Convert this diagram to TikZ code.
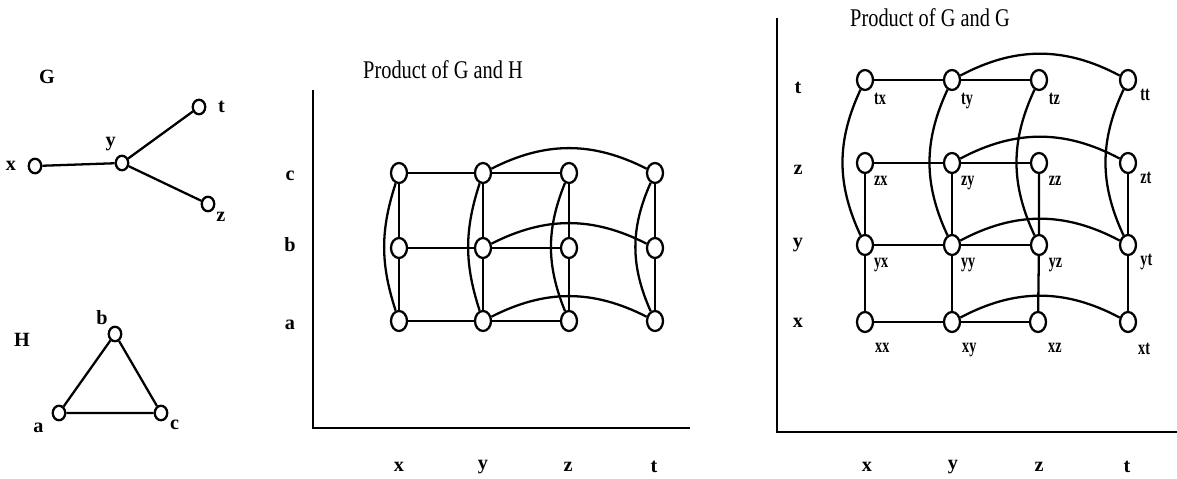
\documentclass[tikz,border=0pt]{standalone}
\usepackage{fontspec}
\setmainfont{Liberation Serif}
\usepackage{graphicx}
\usetikzlibrary{shapes.geometric}

\newcommand{\narrow}[1]{\scalebox{0.7}[1]{#1}}

\begin{document}
\begin{tikzpicture}[x=0.02cm, y=-0.02cm, line width=1.3pt,
    vert/.style={draw, ellipse, inner sep=0pt,
                 minimum width=0.32cm, minimum height=0.40cm},
    gvert/.style={draw, ellipse, inner sep=0pt,
                  minimum width=0.25cm, minimum height=0.29cm},
    lbl/.style={font=\fontsize{11.5}{13}\selectfont\bfseries, inner sep=1pt},
    ttl/.style={font=\fontsize{14.5}{17}\selectfont}]
  \useasboundingbox (0,0) rectangle (1177,479);

  % graph G
  \node[lbl] (gname) at (47,77) {G};
  \node[gvert, label={[lbl, label distance=5pt]left:x}] (gx) at (35,166) {};
  \node[gvert, label={[lbl, label distance=1pt]110:y}] (gy) at (122,163) {};
  \node[gvert, label={[lbl, label distance=5pt]right:t}] (gt) at (199,107) {};
  \node[gvert, label={[lbl]-45:z}] (gz) at (208,204) {};
  \draw (gx) -- (gy);
  \draw (gy) -- (gt);
  \draw (gy) -- (gz);

  % graph H
  \node[lbl] (hname) at (22,340) {H};
  \node[gvert, label={[lbl]125:b}] (hb) at (115,334) {};
  \node[gvert, label={[lbl, label distance=4pt]210:a}] (ha) at (59,413) {};
  \node[gvert, label={[lbl]-35:c}] (hc) at (161,413) {};
  \draw (ha) -- (hb) -- (hc) -- (ha);

  % product of G and H
  \node[ttl] (ttlgh) at (443,70) {\scalebox{0.8}[1]{Product of G and H}};
  \coordinate (mtop) at (313,90);
  \coordinate (morig) at (313,428);
  \coordinate (mend) at (690,428);
  \draw[line width=1.6pt] (mtop) -- (morig) -- (mend);
  \foreach \h/\py in {a/325,b/245,c/176}
    \node[lbl] (mrow\h) at (290,\py) {\h};
  \foreach \g/\px in {x/399,y/483,z/568,t/654}
    \node[lbl] (mcol\g) at (\px,467) {\g};

  \foreach \g/\px in {x/399,y/483,z/569,t/655}
    \foreach \h/\py in {a/321,b/248,c/173}
      \node[vert] (m\g\h) at (\px,\py) {};
  \foreach \h in {a,b,c} {
    \draw (mx\h) -- (my\h) -- (mz\h);
    \draw (my\h) to[bend left=27] (mt\h);
  }
  \foreach \g/\bd in {x/18,y/18,z/22,t/24} {
    \draw (m\g a) -- (m\g b) -- (m\g c);
    \draw (m\g c) to[bend right=\bd] (m\g a);
  }

  % product of G and G
  \node[ttl] (ttlgg) at (930,18) {\scalebox{0.8}[1]{Product of G and G}};
  \coordinate (rtop) at (777,18);
  \coordinate (rorig) at (777,432);
  \coordinate (rend) at (1177,432);
  \draw[line width=1.6pt] (rtop) -- (rorig) -- (rend);
  \foreach \f/\py in {t/88,z/170,y/245,x/323}
    \node[lbl] (rrow\f) at (798,\py) {\f};
  \foreach \s/\px in {x/867,y/953,z/1039,t/1127}
    \node[lbl] (rcol\s) at (\px,467) {\s};

  \foreach \f/\py in {t/80,z/163,y/245}
    \foreach \s/\px/\la in {x/865/-60,y/952/-60,z/1039/-55,t/1128/-33}
      \node[vert, label={[lbl, label distance=1pt]\la:\narrow{\f\s}}]
        (r\f\s) at (\px,\py) {};
  \foreach \s/\px in {x/865,y/952,z/1038,t/1128}
    \node[vert, label={[lbl, label distance=5pt]-68:\narrow{x\s}}]
      (rx\s) at (\px,322) {};

  \foreach \f in {t,z,y,x} {
    \draw (r\f x) -- (r\f y) -- (r\f z);
    \draw (r\f y) to[bend left=28] (r\f t);
  }
  \foreach \s in {x,y,z,t} {
    \draw (rx\s) -- (ry\s) -- (rz\s);
    \draw (ry\s) to[bend left=25] (rt\s);
  }
\end{tikzpicture}
\end{document}
